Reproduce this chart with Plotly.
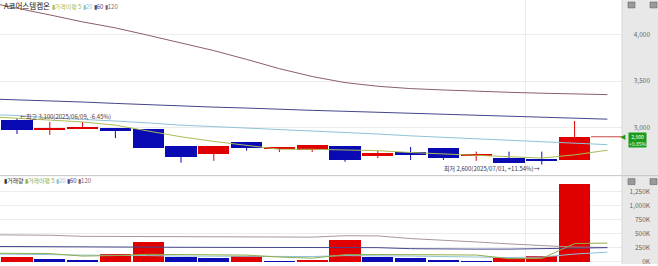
import plotly.graph_objects as go

# ---------------- data ----------------
dates = ["2025/06/09", "2025/06/10", "2025/06/11", "2025/06/12", "2025/06/13",
         "2025/06/16", "2025/06/17", "2025/06/18", "2025/06/19", "2025/06/20",
         "2025/06/23", "2025/06/24", "2025/06/25", "2025/06/26", "2025/06/27",
         "2025/06/30", "2025/07/01", "2025/07/02"]
open_ = [3080, 2980, 2985, 2995, 2980, 2800, 2715, 2845, 2770, 2755, 2800, 2695, 2740, 2780, 2695, 2675, 2660, 2650]
high = [3100, 3060, 3060, 2995, 2985, 2800, 2800, 2845, 2790, 2810, 2800, 2750, 2790, 2780, 2740, 2740, 2740, 3070]
low = [2930, 2920, 2985, 2885, 2780, 2620, 2640, 2750, 2735, 2735, 2630, 2670, 2650, 2650, 2640, 2620, 2600, 2650]
close = [2970, 2995, 2995, 2960, 2780, 2680, 2800, 2780, 2770, 2810, 2650, 2725, 2705, 2675, 2695, 2620, 2640, 2900]

# price moving averages (previous day + each day + one step ahead, as drawn)
ma5 = [3120, 3100, 3080, 3060, 3025, 2960, 2900, 2850, 2805, 2765, 2765, 2760, 2750, 2730, 2715, 2695, 2685, 2670, 2705, 2755]
ma20 = [3140, 3130, 3105, 3090, 3070, 3050, 3025, 3010, 2995, 2980, 2965, 2945, 2930, 2910, 2895, 2875, 2860, 2845, 2830, 2815]
ma60 = [3310, 3300, 3285, 3275, 3260, 3245, 3235, 3220, 3210, 3195, 3185, 3175, 3165, 3150, 3140, 3130, 3125, 3110, 3100, 3090]
ma120 = [4360, 4290, 4215, 4140, 4075, 3995, 3915, 3830, 3735, 3635, 3550, 3485, 3445, 3420, 3405, 3390, 3380, 3370, 3360, 3355]

volume = [80000, 44000, 27000, 133000, 363000, 80000, 75000, 97000, 14000, 32000,
          399000, 85000, 62000, 20000, 15000, 74000, 103000, 1392000]
vol_prev = 60000
vma5 = [150000, 151000, 142000, 98000, 106000, 129000, 129000, 120000, 115000, 80000, 60000, 123000, 125000, 117000, 120000, 116000, 51000, 55000, 321000, 330000]
vma20 = [135000, 133000, 124000, 115000, 115000, 106000, 98000, 98000, 98000, 98000, 89000, 106000, 106000, 98000, 89000, 80000, 71000, 80000, 133000, 168000]
vma60 = [270000, 270000, 270000, 266000, 262000, 257000, 254000, 252000, 252000, 252000, 252000, 252000, 248000, 230000, 222000, 222000, 222000, 230000, 239000, 248000]
vma120 = [478000, 475000, 470000, 450000, 447000, 447000, 447000, 447000, 445000, 440000, 436000, 461000, 458000, 410000, 385000, 350000, 315000, 280000, 257000, 252000]

price_ticks = [3000, 3500, 4000]
price_tick_text = ["3,000", "3,500", "4,000"]
vol_ticks = [0, 250000, 500000, 750000, 1000000, 1250000]
vol_tick_text = ["0K", "250K", "500K", "750K", "1,000K", "1,250K"]

title_name = "A코어스템켐온"

# ---------------- styling ----------------
RED = "#e00000"
BLUE = "#0a0ab4"
C5 = "#a9bd55"
C20 = "#8fc3d8"
C60 = "#45458c"
C120 = "#8a5f6c"
C120V = "#a7959f"
FONT = "Noto Sans CJK KR, Noto Sans, sans-serif"

n = len(dates)
idx = list(range(n))
ma_x = list(range(-1, len(ma5) - 1))

fig = go.Figure()

# wicks
for col, cond in ((RED, lambda i: close[i] >= open_[i]), (BLUE, lambda i: close[i] < open_[i])):
    wx, wy = [], []
    for i in idx:
        if cond(i):
            wx += [i, i, None]
            wy += [low[i], high[i], None]
    fig.add_trace(go.Scatter(x=wx, y=wy, mode="lines", line=dict(color=col, width=1),
                             xaxis="x2", yaxis="y2", hoverinfo="skip", showlegend=False))

# bodies
body_base = [min(o, c) for o, c in zip(open_, close)]
body_h = [max(abs(c - o), 10) for o, c in zip(open_, close)]
body_col = [RED if c >= o else BLUE for o, c in zip(open_, close)]
fig.add_trace(go.Bar(x=idx, y=body_h, base=body_base, width=0.95,
                     marker=dict(color=body_col, line=dict(width=0)),
                     xaxis="x2", yaxis="y2", showlegend=False, hoverinfo="skip"))

# price MAs
for arr, col in ((ma120, C120), (ma60, C60), (ma20, C20), (ma5, C5)):
    fig.add_trace(go.Scatter(x=ma_x, y=arr, mode="lines", line=dict(color=col, width=1),
                             xaxis="x2", yaxis="y2", showlegend=False, hoverinfo="skip"))

# volume bars
prev = [vol_prev] + volume[:-1]
vol_col = [RED if v >= p else BLUE for v, p in zip(volume, prev)]
fig.add_trace(go.Bar(x=idx, y=volume, width=0.95, marker=dict(color=vol_col, line=dict(width=0)),
                     xaxis="x", yaxis="y", showlegend=False, hoverinfo="skip"))
for arr, col in ((vma120, C120V), (vma60, C60), (vma20, C20), (vma5, "#8fae48")):
    fig.add_trace(go.Scatter(x=ma_x, y=arr, mode="lines", line=dict(color=col, width=1),
                             xaxis="x", yaxis="y", showlegend=False, hoverinfo="skip"))

W, H = 658, 266
plot_right = 622 / W
top_dom = [1 - 176 / H, 1]
bot_dom = [0, 1 - 178 / H]
xr = [-0.518, 18.445]
pr = [2491, 4376]
vr = [-44000, 1516000]

grid = "#ececec"
xcommon = dict(domain=[0, plot_right], range=xr, showticklabels=False, tickvals=[15.5],
               showgrid=True, gridcolor=grid, zeroline=False, showline=False, ticks="")

# annotations
hi = max(high)
lo = min(low)
hi_i = high.index(hi)
lo_i = low.index(lo)
last = close[-1]
pct_hi = (last / hi - 1) * 100
pct_lo = (last / lo - 1) * 100
pct_day = (last / close[-2] - 1) * 100

annotations = [
    dict(xref="paper", yref="paper", x=0.003, y=1 - 6 / H, xanchor="left", yanchor="middle",
         showarrow=False, font=dict(family=FONT, size=7.5, color="#111"),
         text=(f"{title_name} <span style='font-size:6px;color:{C5}'>▮가격이평 5</span>"
               f"<span style='font-size:6px;color:{C20}'> ▮20</span>"
               f"<span style='font-size:6px;color:{C60}'> ▮60</span>"
               f"<span style='font-size:6px;color:{C120}'> ▮120</span>")),
    dict(xref="paper", yref="paper", x=0.003, y=1 - 182 / H, xanchor="left", yanchor="middle",
         showarrow=False, font=dict(family=FONT, size=6, color="#333"),
         text=(f"<span style='color:#333'>▮거래량</span>"
               f"<span style='color:#8fae48'> ▮거래이평 5</span>"
               f"<span style='color:{C20}'> ▮20</span>"
               f"<span style='color:{C60}'> ▮60</span>"
               f"<span style='color:{C120}'> ▮120</span>")),
    dict(xref="x2", yref="y2", x=hi_i, y=hi, xanchor="left", yanchor="middle", xshift=1, yshift=2,
         showarrow=False, font=dict(family=FONT, size=6, color="#553333"),
         text=f"←최고 {hi:,}({dates[hi_i]}, {pct_hi:+.2f}%)"),
    dict(xref="x2", yref="y2", x=lo_i, y=lo, xanchor="right", yanchor="middle", xshift=0, yshift=-4,
         showarrow=False, font=dict(family=FONT, size=6, color="#333355"),
         text=f"최저 {lo:,}({dates[lo_i]}, {pct_lo:+.2f}%)→"),
    dict(xref="paper", yref="y2", x=628 / W, y=last, xanchor="left", yanchor="middle",
         yshift=-3.5, showarrow=False, bgcolor="#1a9c1a", borderpad=0,
         font=dict(family=FONT, size=5, color="white"),
         text=f"{last:,}<br>{pct_day:+.2f}%"),
    dict(xref="paper", yref="y2", x=628 / W, y=last, xanchor="right", yanchor="middle",
         showarrow=False, font=dict(family=FONT, size=6, color="#1a9c1a"), text="◀"),
]

shapes = [
    dict(type="rect", xref="paper", yref="paper", x0=plot_right, x1=1, y0=0, y1=1,
         fillcolor="#e8e8e8", line=dict(width=0), layer="below"),
    dict(type="line", xref="paper", yref="paper", x0=0, x1=1, y0=1 - 177 / H, y1=1 - 177 / H,
         line=dict(color="#c4c4c4", width=1)),
    dict(type="line", xref="paper", yref="paper", x0=plot_right, x1=plot_right, y0=0, y1=1,
         line=dict(color="#d8d8d8", width=1)),
    dict(type="line", xref="x2", yref="y2", x0=n - 0.5, x1=xr[1], y0=last, y1=last,
         line=dict(color="#c84848", width=1)),
]
for yy in (0, 178):
    for xx in (628, 650):
        shapes.append(dict(type="rect", xref="paper", yref="paper",
                           x0=xx / W, x1=(xx + 7) / W, y0=1 - (yy + 8) / H, y1=1 - (yy + 2) / H,
                           fillcolor="#9a9a9a", line=dict(color="#555", width=0.5)))

tickfont = dict(family=FONT, size=6.5, color="#666")
fig.update_layout(
    width=W, height=H, margin=dict(l=0, r=0, t=0, b=0),
    paper_bgcolor="white", plot_bgcolor="white",
    barmode="overlay", bargap=0,
    xaxis=dict(anchor="y", **xcommon),
    xaxis2=dict(anchor="y2", matches="x", **xcommon),
    yaxis=dict(domain=bot_dom, anchor="x", range=vr, tickvals=vol_ticks, showticklabels=False,
               showgrid=True, gridcolor=grid, zeroline=False, ticks=""),
    yaxis2=dict(domain=top_dom, anchor="x2", range=pr, tickvals=price_ticks, showticklabels=False,
                showgrid=True, gridcolor=grid, zeroline=False, ticks=""),
    yaxis3=dict(overlaying="y2", anchor="free", position=650 / W, side="left", range=pr,
                tickvals=price_ticks, ticktext=price_tick_text, showgrid=False, zeroline=False,
                ticks="", tickfont=tickfont, showline=False, ticklabeloverflow="allow"),
    yaxis4=dict(overlaying="y", anchor="free", position=650 / W, side="left", range=vr,
                tickvals=vol_ticks, ticktext=vol_tick_text, showgrid=False, zeroline=False,
                ticks="", tickfont=tickfont, showline=False, ticklabeloverflow="allow"),
    annotations=annotations, shapes=shapes, showlegend=False,
)
# dummy traces to activate label axes
fig.add_trace(go.Scatter(x=[None], y=[None], xaxis="x2", yaxis="y3", showlegend=False))
fig.add_trace(go.Scatter(x=[None], y=[None], xaxis="x", yaxis="y4", showlegend=False))

fig.write_html("out.html")
